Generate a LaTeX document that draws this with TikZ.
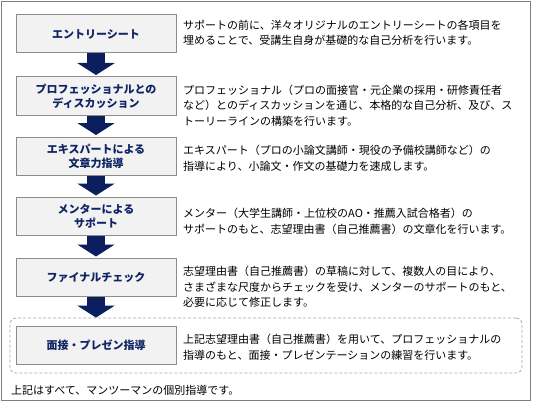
\documentclass[tikz,border=0pt]{standalone}
\usepackage{fontspec}
\setmainfont{Noto Sans CJK JP}
\usetikzlibrary{arrows.meta,calc}
\definecolor{navy}{HTML}{0F2463}
\definecolor{arrowc}{HTML}{0B1F5E}
\definecolor{boxfill}{HTML}{F2F2F2}
\definecolor{boxline}{HTML}{8C8C8C}
\definecolor{framec}{HTML}{808080}
\definecolor{dashc}{HTML}{A6A6A6}
\tikzset{
  stepbox/.style={draw=boxline, fill=boxfill, line width=1pt, minimum width=160pt, minimum height=38pt,
    inner sep=0pt, align=center, text=navy, font=\fontsize{11pt}{14pt}\selectfont\bfseries},
  desc/.style={anchor=west, align=left, inner sep=0pt, font=\fontsize{11pt}{15.5pt}\selectfont},
  flowarrow/.style={draw=arrowc, line width=18pt, -{Triangle[width=37pt,length=12pt]}, color=arrowc},
  groupbox/.style={draw=dashc, line width=0.8pt, dash pattern=on 3pt off 2pt, rounded corners=6pt,
    minimum width=512pt, minimum height=55pt, inner sep=0pt},
}
\begin{document}
\begin{tikzpicture}[x=1pt,y=-1pt]
\useasboundingbox (0,0) rectangle (533,404);
\draw[framec, line width=1pt] (1.5,1.5) rectangle (530.5,400.5);

\node[groupbox] (grp) at (266,345.5) {};

\node[stepbox] (b1) at (96,34) {エントリーシート};
\node[stepbox] (b2) at (96,96) {プロフェッショナルとの\\ディスカッション};
\node[stepbox] (b3) at (96,156) {エキスパートによる\\文章力指導};
\node[stepbox] (b4) at (96,216.5) {メンターによる\\サポート};
\node[stepbox] (b5) at (96,277.5) {ファイナルチェック};
\node[stepbox] (b6) at (96,345.5) {面接・プレゼン指導};

\draw[flowarrow] (b1.south) -- ($(b2.north)+(0,-1.5)$);
\draw[flowarrow] (b2.south) -- ($(b3.north)+(0,-1.5)$);
\draw[flowarrow] (b3.south) -- ($(b4.north)+(0,-1.5)$);
\draw[flowarrow] (b4.south) -- ($(b5.north)+(0,-1.5)$);
\draw[flowarrow] (b5.south) -- (b5.south |- grp.north);

\node[desc] (d1) at (183,33) {サポートの前に、洋々オリジナルのエントリーシートの各項目を\\埋めることで、受講生自身が基礎的な自己分析を行います。};
\node[desc] (d2) at (183,105.5) {プロフェッショナル（プロの面接官・元企業の採用・研修責任者\\など）とのディスカッションを通じ、本格的な自己分析、及び、ス\\トーリーラインの構築を行います。};
\node[desc] (d3) at (183,158.5) {エキスパート（プロの小論文講師・現役の予備校講師など）の\\指導により、小論文・作文の基礎力を速成します。};
\node[desc] (d4) at (183,221.5) {メンター（大学生講師・上位校のAO・推薦入試合格者）の\\サポートのもと、志望理由書（自己推薦書）の文章化を行います。};
\node[desc] (d5) at (183,287) {志望理由書（自己推薦書）の草稿に対して、複数人の目により、\\さまざまな尺度からチェックを受け、メンターのサポートのもと、\\必要に応じて修正します。};
\node[desc] (d6) at (183,347) {上記志望理由書（自己推薦書）を用いて、プロフェッショナルの\\指導のもと、面接・プレゼンテーションの練習を行います。};
\node[desc] (foot) at (11,390) {上記はすべて、マンツーマンの個別指導です。};
\end{tikzpicture}
\end{document}
